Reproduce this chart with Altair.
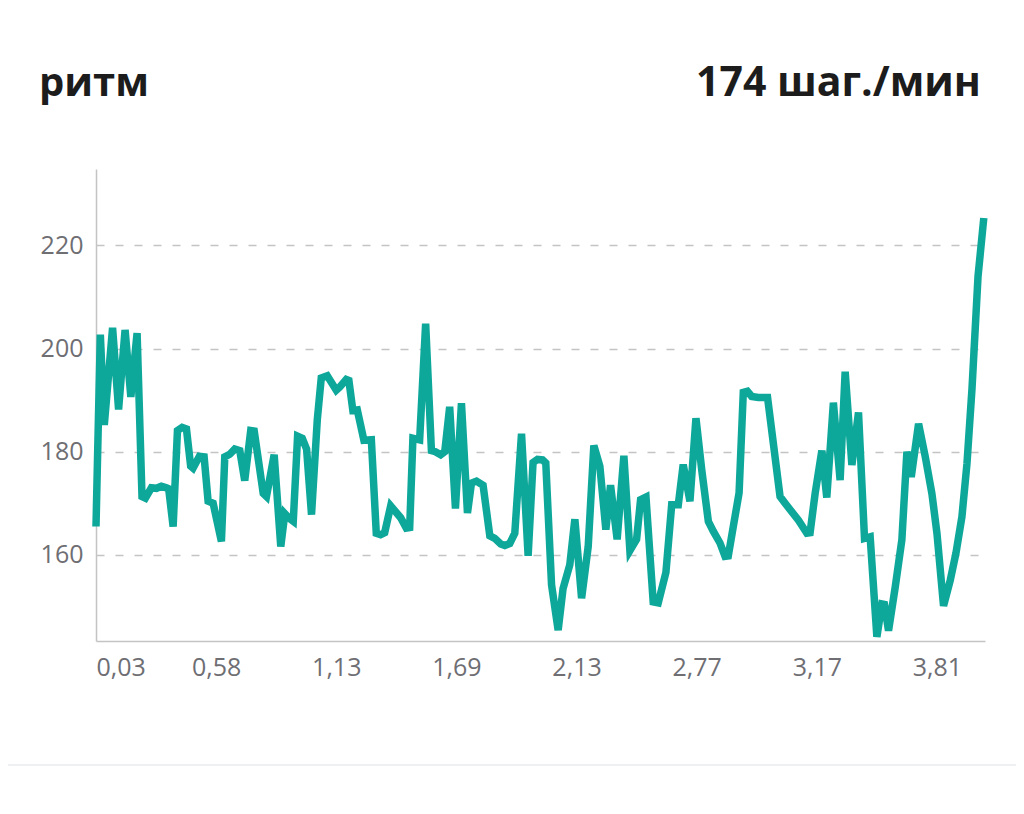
import altair as alt
import pandas as pd

# time position (axis units, 10 per labelled tick) and cadence (steps/min)
t = [0, 0.36, 0.69, 1.38, 1.88, 2.42, 2.9, 3.42, 3.83, 4.11, 4.61, 5.03, 5.44, 5.86, 6.05,
     6.42, 6.78, 7.17, 7.53, 7.88, 8.08, 8.61, 9.0, 9.33, 9.75, 10.44, 10.72, 11.13, 11.55,
     11.97, 12.38, 12.88, 13.17, 13.92, 14.19, 14.83, 15.38, 15.72, 16.13, 16.42, 16.78,
     17.17, 17.53, 17.94, 18.42, 18.75, 19.25, 20.0, 20.28, 20.83, 21.05, 21.38, 21.75,
     22.3, 22.92, 23.33, 23.69, 24.03, 24.53, 25.36, 25.83, 26.11, 26.38, 26.94, 27.44,
     27.92, 28.25, 28.69, 29.03, 29.44, 29.92, 30.42, 30.92, 31.25, 31.67, 32.22, 32.78,
     33.19, 33.69, 34.03, 34.44, 34.86, 35.42, 35.97, 36.38, 36.75, 37.17, 37.44, 37.92,
     38.47, 38.88, 39.44, 39.86, 40.42, 40.97, 41.44, 41.94, 42.44, 42.83, 43.38, 43.94,
     44.44, 45.0, 45.33, 45.78, 46.38, 46.8, 47.44, 47.92, 48.47, 48.88, 49.44, 49.94,
     50.42, 50.97, 51.38, 51.94, 52.36, 52.63, 53.05, 53.53, 53.88, 54.22, 54.58, 55.13,
     55.9, 56.94, 57.36, 58.47, 59.17, 59.44, 59.86, 60.42, 60.83, 61.38, 61.94, 62.36,
     62.92, 63.47, 63.97, 64.44, 65.0, 65.42, 65.63, 65.97, 66.53, 67.08, 67.5, 67.86,
     68.47, 69.03, 69.58, 70.0, 70.55, 71.11, 71.58, 72.08, 72.5, 72.92, 73.42, 73.9]

cadence = [165.5, 202.7, 185.2, 204.0, 188.2, 203.6, 190.6, 203.0, 171.3, 171.0, 173.0,
           172.9, 173.3, 173.0, 172.8, 165.5, 184.1, 184.7, 184.4, 177.2, 176.8, 179.1,
           179.0, 170.4, 170.0, 162.6, 179.0, 179.5, 180.5, 180.2, 174.4, 184.1, 184.0,
           171.9, 171.3, 179.4, 161.6, 168.0, 167.0, 166.5, 183.0, 182.6, 180.5, 167.8,
           186.2, 194.3, 194.7, 191.9, 192.5, 194.0, 193.8, 188.0, 188.1, 182.2, 182.3,
           164.2, 163.9, 164.3, 169.5, 167.2, 165.2, 165.3, 182.6, 182.3, 204.8, 180.2,
           180.0, 179.4, 180.0, 188.7, 169.0, 189.4, 168.1, 173.9, 174.3, 173.5, 163.7,
           163.2, 162.1, 161.8, 162.2, 164.2, 183.5, 159.8, 177.9, 178.5, 178.4, 177.8,
           154.2, 145.4, 153.5, 158.1, 166.9, 151.6, 161.6, 181.2, 177.2, 164.9, 173.5,
           163.0, 179.2, 160.8, 163.0, 170.7, 171.2, 150.9, 150.7, 156.6, 169.7, 169.7,
           177.5, 170.4, 186.5, 176.5, 166.5, 164.6, 162.3, 159.7, 159.8, 165.5, 172.0,
           191.5, 191.7, 190.7, 190.5, 190.5, 171.3, 170.0, 166.7, 164.2, 164.3, 171.9,
           180.2, 171.1, 189.5, 174.5, 195.5, 177.4, 187.6, 163.2, 163.5, 144.1, 150.5,
           150.4, 145.3, 153.8, 162.9, 180.0, 175.1, 185.4, 179.0, 171.9, 164.2, 150.1,
           155.1, 160.3, 167.4, 177.7, 192.3, 214.0, 225.3]

tick_t = [0, 10, 20, 30, 40, 50, 60, 70]
tick_labels = ["0,03", "0,58", "1,13", "1,69", "2,13", "2,77", "3,17", "3,81"]
y_ticks = [160, 180, 200, 220]

title_left = "ритм"
title_right = "174 шаг./мин"

df = pd.DataFrame({"t": t, "cadence": cadence})
one = pd.DataFrame({"k": [0]})

FONT = "Open Sans"
W, H = 889, 472

label_array = "[" + ",".join("'" + s + "'" for s in tick_labels) + "]"

line = alt.Chart(df).mark_line(color="#0ea89b", strokeWidth=7.5).encode(
    x=alt.X("t:Q", scale=alt.Scale(domain=[0, 74], nice=False, zero=False),
            axis=alt.Axis(values=tick_t, title=None, grid=False, ticks=False,
                          labelExpr=label_array + "[round(datum.value/10)]",
                          labelFont=FONT, labelFontSize=25, labelColor="#6e6e73",
                          labelPadding=14, domainColor="#c4c4c4", domainWidth=1.5)),
    y=alt.Y("cadence:Q", scale=alt.Scale(domain=[143.3, 234.8], nice=False, zero=False),
            axis=alt.Axis(values=y_ticks, title=None, grid=True, ticks=False,
                          gridDash=[8, 11], gridColor="#c4c4c4", gridWidth=1.5,
                          labelFont=FONT, labelFontSize=25, labelColor="#6e6e73",
                          labelPadding=13, domainColor="#c4c4c4", domainWidth=1.5)),
)

t_left = alt.Chart(one).mark_text(font=FONT, fontSize=40, fontWeight="bold",
                                  color="#1c1c1c", align="left", baseline="alphabetic").encode(
    x=alt.value(-57), y=alt.value(-73), text=alt.value(title_left))

t_right = alt.Chart(one).mark_text(font=FONT, fontSize=41, fontWeight="bold",
                                   color="#1c1c1c", align="right", baseline="alphabetic").encode(
    x=alt.value(885), y=alt.value(-73), text=alt.value(title_right))

sep = alt.Chart(one).mark_rule(color="#eef0f2", strokeWidth=2).encode(
    x=alt.value(-96), x2=alt.value(930), y=alt.value(596))

chart = alt.layer(line, t_left, t_right, sep).properties(
    width=W, height=H,
    autosize=alt.AutoSizeParams(type="none"),
    padding={"left": 88, "top": 161, "right": 31, "bottom": 140},
).configure_view(stroke=None)

chart.save("out.html", embed_options={"renderer": "svg", "actions": False})
